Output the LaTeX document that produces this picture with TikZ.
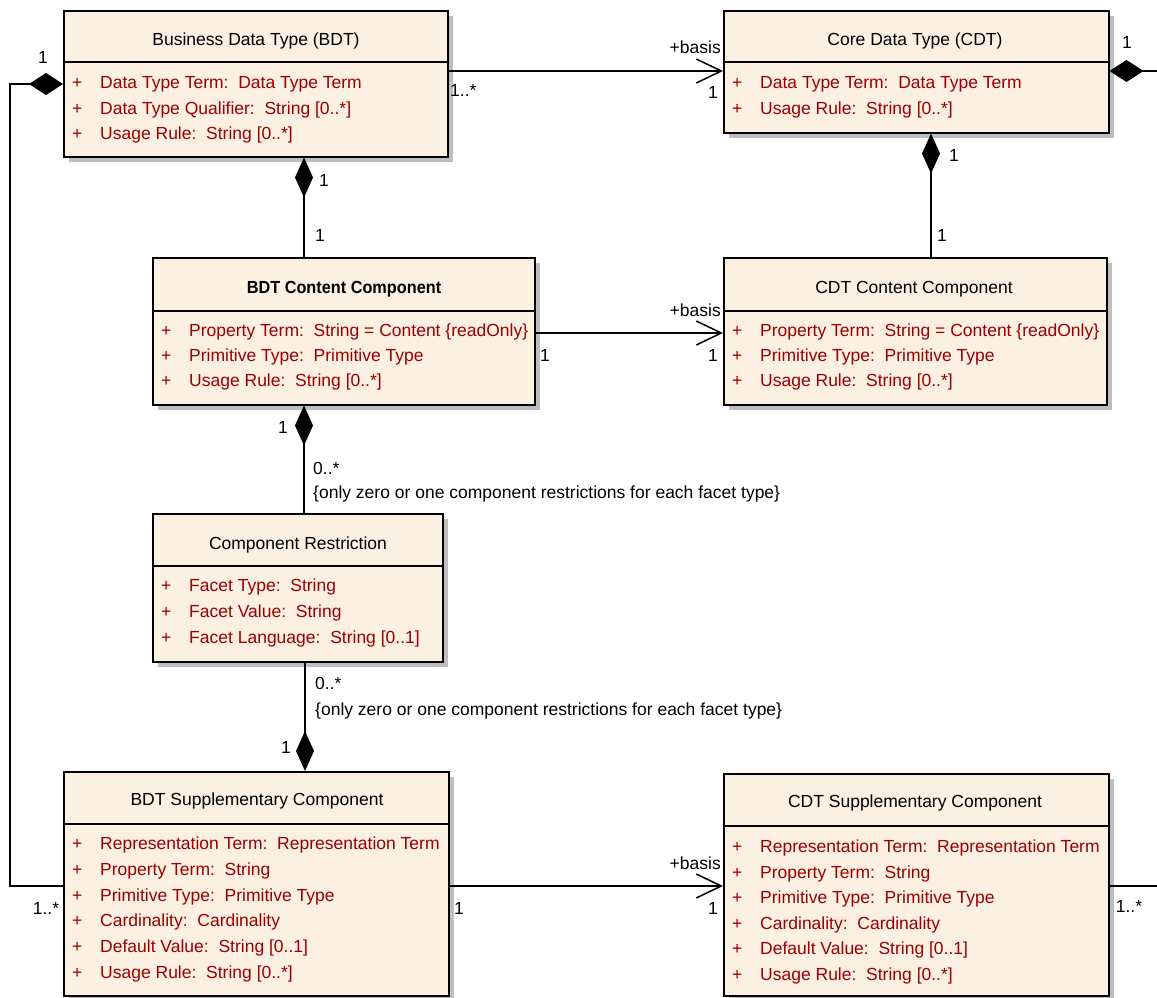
\documentclass[tikz,border=0pt]{standalone}
\usepackage{fontspec}
\setmainfont{Liberation Sans}
\usetikzlibrary{arrows.meta,shadows}

\definecolor{classfill}{RGB}{251,240,226}
\definecolor{attrred}{RGB}{155,0,0}
\definecolor{shadowgray}{RGB}{190,190,190}

\tikzset{
  classbox/.style={draw=black, line width=1.5pt, fill=classfill, inner sep=0pt,
    anchor=north west,
    drop shadow={shadow xshift=5pt, shadow yshift=-5pt, fill=shadowgray, opacity=1}},
  divider/.style={draw=black, line width=1.5pt},
  umlfont/.style={font=\fontsize{17.5}{20}\selectfont},
  titletext/.style={umlfont, inner sep=0pt, anchor=base},
  attrtext/.style={umlfont, text=attrred, inner sep=0pt, anchor=base west},
  lbl/.style={umlfont, inner sep=0pt},
  link/.style={draw=black, line width=1.5pt},
  navarrow/.style={-{Straight Barb[length=25pt,width=24pt]}},
  compv/.style={{Diamond[length=40pt,width=18pt]}-},
  comph/.style={{Diamond[length=34pt,width=22pt]}-},
}

% class rectangle with header divider: name, x1, y1, x2, y2, divider y
\newcommand{\umlclass}[6]{%
  \node[classbox, minimum width={(#4-#2)*1pt}, minimum height={(#5-#3)*1pt}] (#1) at (#2,#3) {};
  \draw[divider] (#1.west |- 0,#6) -- (#1.east |- 0,#6);
}
% class name: name, centre x, centre y, text
\newcommand{\umltitle}[4]{%
  \node[titletext] (#1) at (#2,{#3+6.5}) {#4};
}
% attribute row: name, class left x, centre y, text
\newcommand{\umlattr}[4]{%
  \node[attrtext] (#1) at ({#2+9},{#3+6.5}) {\makebox[28pt][l]{+}#4};
}

\begin{document}
\begin{tikzpicture}[x=1pt,y=-1pt]
\useasboundingbox (0,0) rectangle (1157,997);

% ---------- classes ----------
\umlclass{bdt}{63}{10}{447}{156}{62}
\umltitle{bdt-t}{256}{39}{Business Data Type (BDT)}
\umlattr{bdt-a1}{63}{82}{Data Type Term:\ \ Data Type Term}
\umlattr{bdt-a2}{63}{108}{Data Type Qualifier:\ \ String [0..*]}
\umlattr{bdt-a3}{63}{133}{Usage Rule:\ \ String [0..*]}

\umlclass{cdt}{723}{10}{1108}{132}{62}
\umltitle{cdt-t}{915}{39}{Core Data Type (CDT)}
\umlattr{cdt-a1}{723}{82}{Data Type Term:\ \ Data Type Term}
\umlattr{cdt-a2}{723}{108}{Usage Rule:\ \ String [0..*]}

\umlclass{bdtc}{152}{257}{534}{404}{311}
\umltitle{bdtc-t}{344}{287}{\scalebox{0.93}[1]{\bfseries BDT Content Component}}
\umlattr{bdtc-a1}{152}{330}{Property Term:\ \ String = Content \{readOnly\}}
\umlattr{bdtc-a2}{152}{355}{Primitive Type:\ \ Primitive Type}
\umlattr{bdtc-a3}{152}{380}{Usage Rule:\ \ String [0..*]}

\umlclass{cdtc}{723}{257}{1106}{404}{311}
\umltitle{cdtc-t}{914}{287}{CDT Content Component}
\umlattr{cdtc-a1}{723}{330}{Property Term:\ \ String = Content \{readOnly\}}
\umlattr{cdtc-a2}{723}{355}{Primitive Type:\ \ Primitive Type}
\umlattr{cdtc-a3}{723}{380}{Usage Rule:\ \ String [0..*]}

\umlclass{cr}{152}{513}{442}{661}{566}
\umltitle{cr-t}{298}{543}{Component Restriction}
\umlattr{cr-a1}{152}{585}{Facet Type:\ \ String}
\umlattr{cr-a2}{152}{611}{Facet Value:\ \ String}
\umlattr{cr-a3}{152}{637}{Facet Language:\ \ String [0..1]}

\umlclass{bdts}{63}{771}{448}{995}{824}
\umltitle{bdts-t}{257}{799}{BDT Supplementary Component}
\umlattr{bdts-a1}{63}{843}{Representation Term:\ \ Representation Term}
\umlattr{bdts-a2}{63}{869}{Property Term:\ \ String}
\umlattr{bdts-a3}{63}{895}{Primitive Type:\ \ Primitive Type}
\umlattr{bdts-a4}{63}{920}{Cardinality:\ \ Cardinality}
\umlattr{bdts-a5}{63}{946}{Default Value:\ \ String [0..1]}
\umlattr{bdts-a6}{63}{972}{Usage Rule:\ \ String [0..*]}

\umlclass{cdts}{723}{773}{1108}{995}{826}
\umltitle{cdts-t}{915}{801}{CDT Supplementary Component}
\umlattr{cdts-a1}{723}{846}{Representation Term:\ \ Representation Term}
\umlattr{cdts-a2}{723}{872}{Property Term:\ \ String}
\umlattr{cdts-a3}{723}{897}{Primitive Type:\ \ Primitive Type}
\umlattr{cdts-a4}{723}{923}{Cardinality:\ \ Cardinality}
\umlattr{cdts-a5}{723}{948}{Default Value:\ \ String [0..1]}
\umlattr{cdts-a6}{723}{974}{Usage Rule:\ \ String [0..*]}

% ---------- associations ----------
% BDT -> CDT
\draw[link,navarrow] (bdt.east |- 0,71) -- (cdt.west |- 0,71);
\node[lbl,anchor=base west] (bdt-m1) at (450,96) {1..*};
\node[lbl,anchor=base east] (cdt-r1) at (721,53) {+basis};
\node[lbl,anchor=base] (cdt-m1) at (713,98) {1};

% BDT <>-- BDT Content Component
\draw[link,compv] (bdt.south -| 304,0) -- (bdtc.north -| 304,0);
\node[lbl,anchor=base] (bdt-m2) at (324,186) {1};
\node[lbl,anchor=base] (bdtc-m1) at (320,241) {1};

% CDT <>-- CDT Content Component
\draw[link,compv] (cdt.south -| 931,0) -- (cdtc.north -| 931,0);
\node[lbl,anchor=base] (cdt-m2) at (954,161) {1};
\node[lbl,anchor=base] (cdtc-m1) at (942,241) {1};

% BDT Content -> CDT Content
\draw[link,navarrow] (bdtc.east |- 0,333) -- (cdtc.west |- 0,333);
\node[lbl,anchor=base] (bdtc-m2) at (545,361) {1};
\node[lbl,anchor=base east] (cdtc-r1) at (721,316) {+basis};
\node[lbl,anchor=base] (cdtc-m2) at (713,361) {1};

% BDT Content <>-- Component Restriction
\draw[link,compv] (bdtc.south -| 304,0) -- (cr.north -| 304,0);
\node[lbl,anchor=base] (bdtc-m3) at (283,433) {1};
\node[lbl,anchor=base west] (cr-m1) at (313,474) {0..*};
\node[lbl,anchor=base west] (cr-c1) at (313,498) {\{only zero or one component restrictions for each facet type\}};

% BDT Supplementary <>-- Component Restriction
\draw[link,compv] (bdts.north -| 305,0) -- (cr.south -| 305,0);
\node[lbl,anchor=base west] (cr-m2) at (315,689) {0..*};
\node[lbl,anchor=base west] (cr-c2) at (315,715) {\{only zero or one component restrictions for each facet type\}};
\node[lbl,anchor=base] (bdts-m1) at (286,753) {1};

% BDT <>-- BDT Supplementary (left loop)
\draw[link,comph] (bdt.west |- 0,84) -- ++(-53,0) |- (bdts.west |- 0,886);
\node[lbl,anchor=base] (bdt-m3) at (43,63) {1};
\node[lbl,anchor=base] (bdts-m2) at (46,914) {1..*};

% BDT Supplementary -> CDT Supplementary
\draw[link,navarrow] (bdts.east |- 0,886) -- (cdts.west |- 0,886);
\node[lbl,anchor=base] (bdts-m3) at (459,914) {1};
\node[lbl,anchor=base east] (cdts-r1) at (721,869) {+basis};
\node[lbl,anchor=base] (cdts-m1) at (713,914) {1};

% CDT composition and CDT Supplementary association leaving to the right
\coordinate (cdtout) at (1157,71);
\draw[link,comph] (cdt.east |- 0,71) -- (cdtout);
\node[lbl,anchor=base] (cdt-m3) at (1127,48) {1};
\coordinate (cdtsout) at (1157,886);
\draw[link] (cdts.east |- 0,886) -- (cdtsout);
\node[lbl,anchor=base] (cdts-m2) at (1129,912) {1..*};

\end{tikzpicture}
\end{document}
